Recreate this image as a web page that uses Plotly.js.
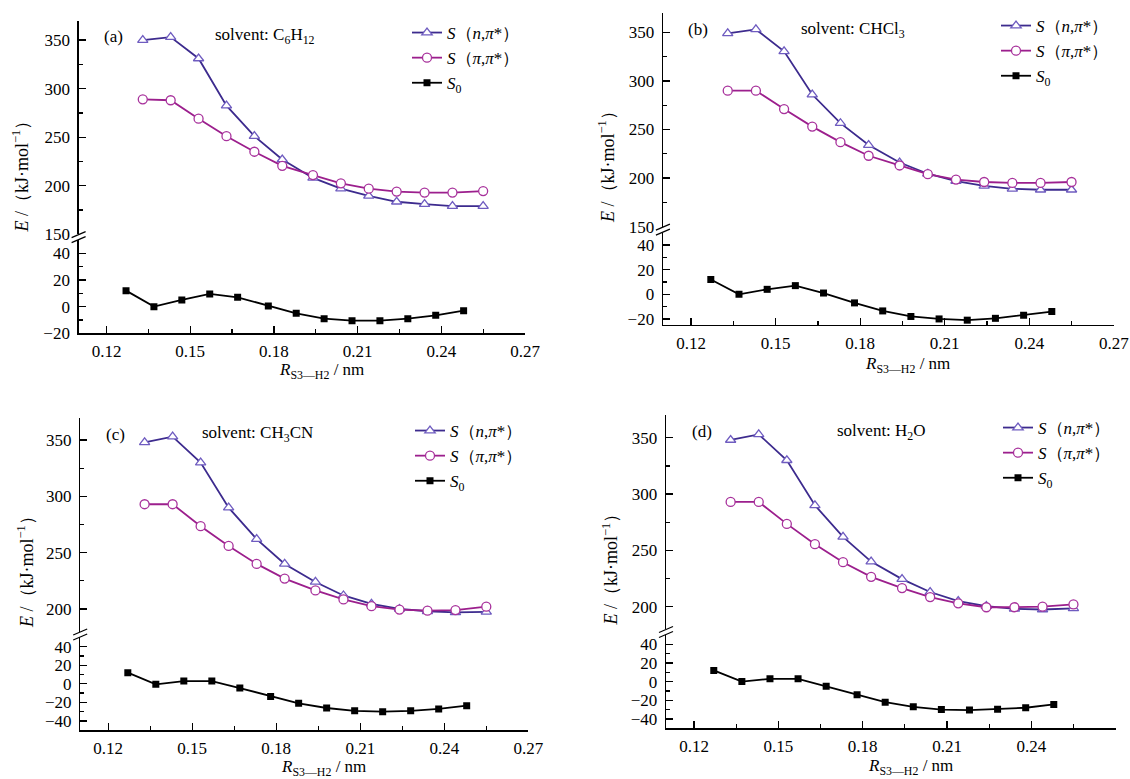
<!DOCTYPE html>
<html>
<head>
<meta charset="utf-8">
<script src="https://cdn.plot.ly/plotly-3.0.1.min.js"></script>
<style>html,body{margin:0;padding:0;background:#fff;}#chart{width:1130px;height:779px;}</style>
</head>
<body>
<div id="chart"></div>
<script>
// ---- data ----
const xExc = [0.133, 0.143, 0.153, 0.163, 0.173, 0.183, 0.194, 0.204, 0.214, 0.224, 0.234, 0.244, 0.255];
const xS0  = [0.127, 0.137, 0.147, 0.157, 0.167, 0.178, 0.188, 0.198, 0.208, 0.218, 0.228, 0.238, 0.248];
const xTicks = [0.12, 0.15, 0.18, 0.21, 0.24, 0.27];

const aNPi  = [350, 353, 331, 282.5, 251, 227, 208, 197, 189.5, 183.5, 181, 179, 179];
const aPiPi = [289, 288, 269, 251, 235, 220.5, 211, 202.5, 197, 194, 193, 193, 194.5];
const aS0   = [12, 0, 5, 9.5, 7, 0.5, -5, -9, -10.5, -10.5, -9, -6.5, -3];

const bNPi  = [349, 353, 330.5, 286, 256.5, 234, 216, 204.5, 197, 192, 189, 188, 188];
const bPiPi = [290, 290, 271, 253, 237, 223, 213, 204, 198.5, 196, 195, 195, 196];
const bS0   = [12, 0, 4, 7, 1, -7, -13.5, -18, -20, -21, -19.5, -17, -14];

const cNPi  = [348, 353, 330, 290, 262, 240, 224, 212, 204.5, 200, 198, 197, 197.5];
const cPiPi = [293, 293, 273.5, 256, 240, 227, 216.5, 208.5, 202.5, 199.5, 198.5, 199, 202];
const cS0   = [12, -0.5, 3, 3, -4.5, -13.5, -21, -26, -29, -30, -29, -27, -23.5];

const dNPi  = [348, 353, 330, 290, 262, 240, 224.5, 213, 205, 200.5, 198, 197.5, 198.5];
const dPiPi = [293, 293, 273.5, 255.5, 239.5, 226.5, 216.5, 208.5, 203, 199.5, 199.5, 200, 202];
const dS0   = [12, 0, 3, 3, -5, -14, -22, -27, -30, -30.5, -29.5, -28, -24.5];

const panelLabels = ['(a)', '(b)', '(c)', '(d)'];
const solvents = ['solvent: C<sub>6</sub>H<sub>12</sub>', 'solvent: CHCl<sub>3</sub>',
                  'solvent: CH<sub>3</sub>CN', 'solvent: H<sub>2</sub>O'];
const seriesNames = ['<i>S</i>（<i>n</i>,<i>π</i>*）', '<i>S</i>（<i>π</i>,<i>π</i>*）', '<i>S</i><sub>0</sub>'];
const yTitle = '<i>E</i> /（kJ·mol<sup>−1</sup>）';
const xTitle = '<i>R</i><sub>S3—H2</sub> / nm';

const nPiSets  = [aNPi, bNPi, cNPi, dNPi];
const piPiSets = [aPiPi, bPiPi, cPiPi, dPiPi];
const s0Sets   = [aS0, bS0, cS0, dS0];

// ---- layout geometry (pixels of 1130x779 figure) ----
const W = 1130, H = 779;
const panels = [
  {xl: 78.6, xr: 525.0, up: [20.6, 234.3], upR: [150, 370], lo: [240.0, 333.3], loR: [-20, 50],
   lab: [113, 36], sol: [212.7, 36], yt: [21.5, 172], xt: [321, 371], leg: [407, 15]},
  {xl: 662.9, xr: 1113.8, up: [12.9, 226.7], upR: [150, 370], lo: [232.6, 325.1], loR: [-25, 50],
   lab: [698, 30], sol: [798.8, 30], yt: [606, 163], xt: [907, 365], leg: [996, 8]},
  {xl: 80.2, xr: 528.3, up: [417.5, 631.5], upR: [180, 370], lo: [637.4, 730.3], loR: [-50, 50],
   lab: [115.8, 434], sol: [200, 434], yt: [25, 568], xt: [323, 767.5], leg: [410, 413]},
  {xl: 666.0, xr: 1115.6, up: [415.2, 629.2], upR: [180, 370], lo: [634.9, 728.3], loR: [-50, 50],
   lab: [702.2, 431.7], sol: [834.5, 431.7], yt: [609.6, 565], xt: [910, 767], leg: [998, 410]}
];

const FONT = 'Liberation Serif, serif';
const px = v => v / W;
const py = v => 1 - v / H;

const traces = [];
const layout = {
  width: W, height: H,
  margin: {l: 0, r: 0, t: 0, b: 0},
  paper_bgcolor: '#fff', plot_bgcolor: 'rgba(0,0,0,0)',
  font: {family: FONT, size: 17, color: '#000'},
  showlegend: true,
  annotations: [], shapes: []
};

const axisCommon = {
  showgrid: false, zeroline: false, showline: true, linecolor: '#000', linewidth: 1.3,
  ticks: 'inside', ticklen: 7, tickwidth: 1.3, tickcolor: '#000',
  tickfont: {family: FONT, size: 17, color: '#000'}
};

panels.forEach((p, i) => {
  const xn = i + 1, yLo = 2 * i + 1, yUp = 2 * i + 2;
  const legName = i === 0 ? 'legend' : 'legend' + (i + 1);
  const xa = 'x' + xn;
  // traces
  traces.push({
    x: xExc, y: nPiSets[i], xaxis: xa, yaxis: 'y' + yUp, name: seriesNames[0], legend: legName,
    mode: 'lines+markers', line: {color: '#3d2b8e', width: 1.8},
    marker: {symbol: 'triangle-up', size: 9, color: '#fff', line: {color: '#6f5cc0', width: 1.3}}
  });
  traces.push({
    x: xExc, y: piPiSets[i], xaxis: xa, yaxis: 'y' + yUp, name: seriesNames[1], legend: legName,
    mode: 'lines+markers', line: {color: '#9c1f8d', width: 1.8},
    marker: {symbol: 'circle', size: 9, color: '#fff', line: {color: '#a8329c', width: 1.3}}
  });
  traces.push({
    x: xS0, y: s0Sets[i], xaxis: xa, yaxis: 'y' + yLo, name: seriesNames[2], legend: legName,
    mode: 'lines+markers', line: {color: '#000', width: 1.8},
    marker: {symbol: 'square', size: 7, color: '#000'}
  });

  // axes
  layout['xaxis' + xn] = Object.assign({}, axisCommon, {
    domain: [px(p.xl), px(p.xr)], range: [0.11, 0.27], anchor: 'y' + yLo,
    tickmode: 'array', tickvals: xTicks, ticktext: xTicks.map(v => v.toFixed(2)),
    ticklabelstandoff: 2,
    minor: {ticks: 'inside', ticklen: 4, tickwidth: 1.3, tickcolor: '#000', dtick: 0.015, tick0: 0.12, showgrid: false}
  });
  layout['yaxis' + yLo] = Object.assign({}, axisCommon, {
    domain: [py(p.lo[1]), py(p.lo[0])], range: p.loR, anchor: xa,
    dtick: 20, tick0: 0, ticklabelstandoff: 4,
    minor: {ticks: 'inside', ticklen: 4, tickwidth: 1.3, tickcolor: '#000', dtick: 10, tick0: 0, showgrid: false}
  });
  layout['yaxis' + yUp] = Object.assign({}, axisCommon, {
    domain: [py(p.up[1]), py(p.up[0])], range: p.upR, anchor: xa,
    dtick: 50, tick0: 0, ticklabelstandoff: 4,
    minor: {ticks: 'inside', ticklen: 4, tickwidth: 1.3, tickcolor: '#000', dtick: 25, tick0: 0, showgrid: false}
  });

  // legend
  layout[legName] = {
    x: px(p.leg[0]), y: py(p.leg[1]), xanchor: 'left', yanchor: 'top',
    bgcolor: 'rgba(0,0,0,0)', borderwidth: 0, tracegroupgap: 0,
    font: {family: FONT, size: 17, color: '#000'}
  };

  // texts
  layout.annotations.push({
    xref: 'paper', yref: 'paper', x: px(p.lab[0]), y: py(p.lab[1]), text: panelLabels[i],
    showarrow: false, xanchor: 'center', yanchor: 'middle', font: {family: FONT, size: 17}
  });
  layout.annotations.push({
    xref: 'paper', yref: 'paper', x: px(p.sol[0]), y: py(p.sol[1]), text: solvents[i],
    showarrow: false, xanchor: 'left', yanchor: 'middle', font: {family: FONT, size: 17}
  });
  layout.annotations.push({
    xref: 'paper', yref: 'paper', x: px(p.yt[0]), y: py(p.yt[1]), text: yTitle, textangle: -90,
    showarrow: false, xanchor: 'center', yanchor: 'middle', font: {family: FONT, size: 18}
  });
  layout.annotations.push({
    xref: 'paper', yref: 'paper', x: px(p.xt[0]), y: py(p.xt[1]), text: xTitle,
    showarrow: false, xanchor: 'center', yanchor: 'middle', font: {family: FONT, size: 17}
  });

  // axis break marks
  const by = (p.up[1] + p.lo[0]) / 2;
  const ax = p.xl;
  [-2.5, 2.5].forEach(d => {
    layout.shapes.push({
      type: 'line', xref: 'paper', yref: 'paper',
      x0: px(ax - 7), y0: py(by + d + 3), x1: px(ax + 7), y1: py(by + d - 3),
      line: {color: '#000', width: 1.2}
    });
  });
});

Plotly.newPlot('chart', traces, layout, {displayModeBar: false, staticPlot: true});
</script>
</body>
</html>
